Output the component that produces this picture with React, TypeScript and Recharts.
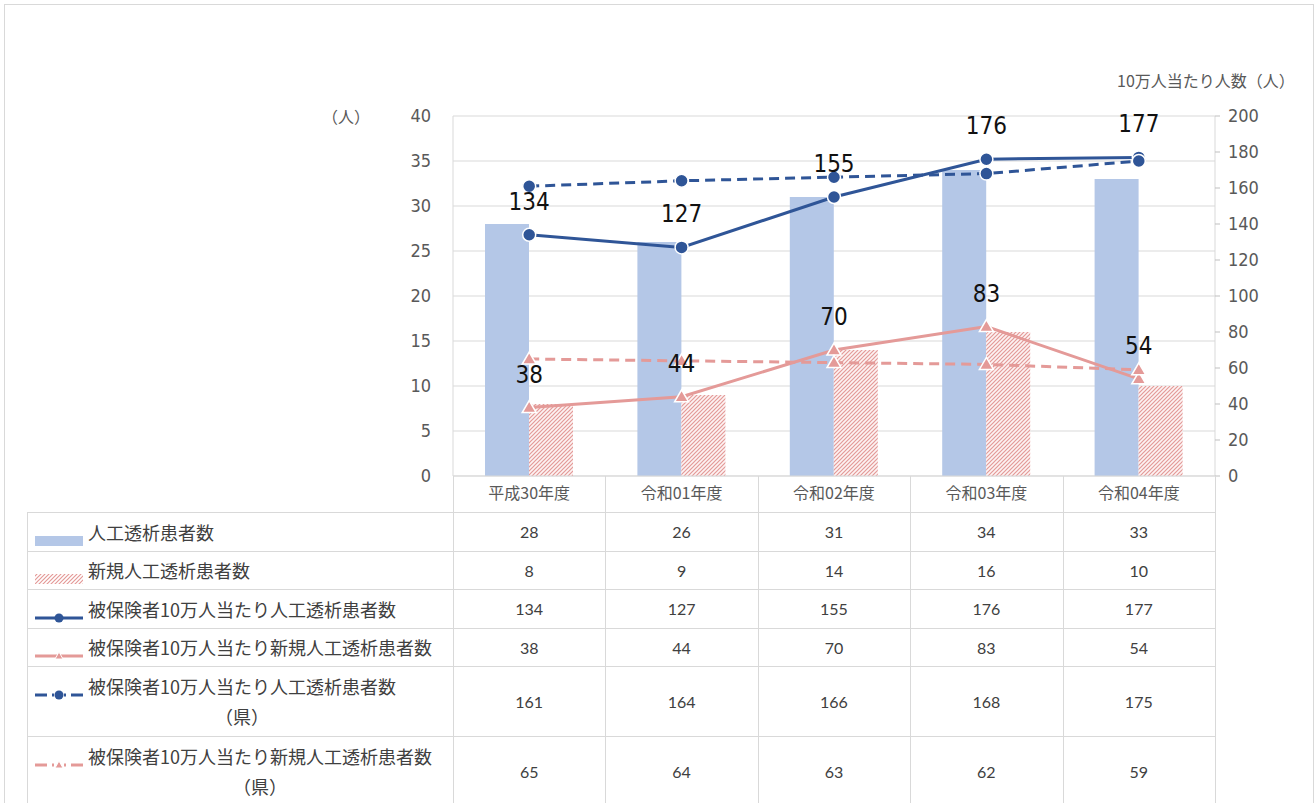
import React from 'react';
import {
  ComposedChart,
  Bar,
  Line,
  XAxis,
  YAxis,
  CartesianGrid,
  LabelList
} from 'recharts';

const years = ['平成30年度', '令和01年度', '令和02年度', '令和03年度', '令和04年度'];
const patients = [28, 26, 31, 34, 33];
const newPatients = [8, 9, 14, 16, 10];
const per100k = [134, 127, 155, 176, 177];
const newPer100k = [38, 44, 70, 83, 54];
const per100kPref = [161, 164, 166, 168, 175];
const newPer100kPref = [65, 64, 63, 62, 59];
const leftTicks = [0, 5, 10, 15, 20, 25, 30, 35, 40];
const rightTicks = [0, 20, 40, 60, 80, 100, 120, 140, 160, 180, 200];

const data = years.map((year, i) => ({
  year,
  patients: patients[i],
  newPatients: newPatients[i],
  per100k: per100k[i],
  newPer100k: newPer100k[i],
  per100kPref: per100kPref[i],
  newPer100kPref: newPer100kPref[i]
}));

const BLUE_BAR = '#b4c7e7';
const BLUE = '#2f5597';
const PINK = '#e49a98';
const GRID = '#d9d9d9';
const AXIS_TEXT = '#595959';
const TEXT = '#404040';
const JP = '"Noto Sans CJK JP", "Noto Sans", sans-serif';
const NARROW = '"Liberation Sans Narrow", "DejaVu Sans Condensed", "Roboto", sans-serif';

// table rows (legend + values)
const rows = [
  { key: 'bar', label: ['人工透析患者数'], values: patients },
  { key: 'hatch', label: ['新規人工透析患者数'], values: newPatients },
  { key: 'blue', label: ['被保険者10万人当たり人工透析患者数'], values: per100k },
  { key: 'pink', label: ['被保険者10万人当たり新規人工透析患者数'], values: newPer100k },
  { key: 'blueDash', label: ['被保険者10万人当たり人工透析患者数', '（県）'], values: per100kPref },
  { key: 'pinkDash', label: ['被保険者10万人当たり新規人工透析患者数', '（県）'], values: newPer100kPref }
];

const PLOT_LEFT = 453;
const PLOT_RIGHT = 1215;
const COL_W = (PLOT_RIGHT - PLOT_LEFT) / years.length;
const TABLE_LEFT = 27;
const rowTops = [512, 551, 589, 628, 666, 736];
const rowHeights = [39, 38, 39, 38, 70, 70];

const Triangle = (props: any) => {
  const { cx, cy, fill, index } = props;
  if (cx == null || cy == null) return <g key={`t-${index}`} />;
  return (
    <path
      key={`t-${index}`}
      d={`M${cx},${cy - 7} L${cx + 7},${cy + 5} L${cx - 7},${cy + 5} Z`}
      fill={fill}
      stroke="#fff"
      strokeWidth={1.5}
    />
  );
};

const Circle = (props: any) => {
  const { cx, cy, fill, index } = props;
  if (cx == null || cy == null) return <g key={`c-${index}`} />;
  return <circle key={`c-${index}`} cx={cx} cy={cy} r={6.5} fill={fill} stroke="#fff" strokeWidth={1.5} />;
};

const LegendIcon = ({ kind }: { kind: string }) => {
  const w = 48;
  if (kind === 'bar') {
    return (
      <svg width={w} height={14}>
        <rect x={0} y={2} width={w} height={10} fill={BLUE_BAR} />
      </svg>
    );
  }
  if (kind === 'hatch') {
    return (
      <svg width={w} height={14}>
        <defs>
          <pattern id="hatchLegend" patternUnits="userSpaceOnUse" width={4} height={4}>
            <path d="M-1,1 l2,-2 M0,4 l4,-4 M3,5 l2,-2" stroke={PINK} strokeWidth={1.2} />
          </pattern>
        </defs>
        <rect x={0} y={2} width={w} height={10} fill="url(#hatchLegend)" />
      </svg>
    );
  }
  const color = kind.startsWith('blue') ? BLUE : PINK;
  const dashed = kind.endsWith('Dash');
  const marker = kind.startsWith('blue')
    ? <circle cx={24} cy={7} r={4.5} fill={color} />
    : <path d="M24,3 L28,10 L20,10 Z" fill={color} stroke="#fff" strokeWidth={1} />;
  return (
    <svg width={w} height={14}>
      {dashed ? (
        <>
          <line x1={0} y1={7} x2={12} y2={7} stroke={color} strokeWidth={3} />
          <line x1={17} y1={7} x2={19} y2={7} stroke={color} strokeWidth={3} />
          <line x1={29} y1={7} x2={31} y2={7} stroke={color} strokeWidth={3} />
          <line x1={36} y1={7} x2={48} y2={7} stroke={color} strokeWidth={3} />
        </>
      ) : (
        <line x1={0} y1={7} x2={w} y2={7} stroke={color} strokeWidth={3} />
      )}
      {marker}
    </svg>
  );
};

const DataTable = () => {
  const hLines = rowTops;
  const vLines = [PLOT_LEFT, ...years.map((_, i) => PLOT_LEFT + COL_W * (i + 1))];
  return (
    <>
      {hLines.map((y) => (
        <div key={`h-${y}`} style={{ position: 'absolute', left: TABLE_LEFT, top: y, width: PLOT_RIGHT - TABLE_LEFT, height: 1, background: GRID }} />
      ))}
      <div style={{ position: 'absolute', left: TABLE_LEFT, top: 512, width: 1, height: 300, background: GRID }} />
      {vLines.map((x) => (
        <div key={`v-${x}`} style={{ position: 'absolute', left: Math.round(x), top: 476, width: 1, height: 340, background: GRID }} />
      ))}
      {rows.map((row, r) => (
        <React.Fragment key={row.key}>
          <div
            style={{
              position: 'absolute',
              left: 88,
              top: rowTops[r],
              height: rowHeights[r],
              display: 'flex',
              alignItems: 'center'
            }}
          >
            <div style={{ position: 'relative', display: 'inline-block', textAlign: 'center', lineHeight: '30px', fontSize: 18, color: TEXT, fontFamily: JP, whiteSpace: 'nowrap' }}>
              <div style={{ position: 'absolute', left: -53, top: 8 }}>
                <LegendIcon kind={row.key} />
              </div>
              {row.label.map((line, li) => (
                <div key={li}>{line}</div>
              ))}
            </div>
          </div>
          {row.values.map((v, i) => (
            <div
              key={`${row.key}-${i}`}
              style={{
                position: 'absolute',
                left: PLOT_LEFT + COL_W * i,
                width: COL_W,
                top: rowTops[r],
                height: rowHeights[r],
                display: 'flex',
                alignItems: 'center',
                justifyContent: 'center',
                fontFamily: 'Lato, "Open Sans", sans-serif',
                fontSize: 16,
                color: TEXT
              }}
            >
              {v}
            </div>
          ))}
        </React.Fragment>
      ))}
    </>
  );
};

const labelStyle = { fill: '#111', fontSize: 24, fontFamily: NARROW };

const App: React.FC = () => {
  return (
    <div style={{ position: 'absolute', left: 0, top: 0, width: 1316, height: 803, background: '#fff', overflow: 'hidden' }}>
      <div style={{ position: 'absolute', left: 4, top: 4, width: 1308, height: 820, border: `1px solid ${GRID}` }} />

      <div style={{ position: 'absolute', left: 322, top: 104, fontSize: 16, color: AXIS_TEXT, fontFamily: JP }}>（人）</div>
      <div style={{ position: 'absolute', left: 1117, top: 68, fontSize: 16, color: AXIS_TEXT, fontFamily: JP }}>10万人当たり人数（人）</div>

      <div style={{ position: 'absolute', left: 0, top: 0 }}>
        <ComposedChart
          width={1316}
          height={512}
          data={data}
          margin={{ top: 116, right: 0, left: 0, bottom: 0 }}
          barGap={0}
          barSize={44}
        >
          <defs>
            <pattern id="hatchBar" patternUnits="userSpaceOnUse" width={4} height={4}>
              <rect width={4} height={4} fill="#fdf3f3" />
              <path d="M-1,1 l2,-2 M0,4 l4,-4 M3,5 l2,-2" stroke={PINK} strokeWidth={1.2} />
            </pattern>
          </defs>
          <CartesianGrid yAxisId="left" vertical={false} stroke={GRID} />
          <XAxis
            dataKey="year"
            height={36}
            axisLine={{ stroke: GRID }}
            tickLine={false}
            tickMargin={6}
            tick={{ fontSize: 16, fill: AXIS_TEXT, fontFamily: JP }}
          />
          <YAxis
            yAxisId="left"
            orientation="left"
            width={453}
            domain={[0, 40]}
            ticks={leftTicks}
            axisLine={{ stroke: GRID }}
            tickLine={false}
            tickMargin={16}
            tick={{ fontSize: 18, fill: AXIS_TEXT, fontFamily: NARROW }}
          />
          <YAxis
            yAxisId="right"
            orientation="right"
            width={101}
            domain={[0, 200]}
            ticks={rightTicks}
            axisLine={{ stroke: GRID }}
            tickLine={{ stroke: '#bfbfbf' }}
            tickSize={5}
            tickMargin={8}
            tick={{ fontSize: 18, fill: AXIS_TEXT, fontFamily: NARROW, textAnchor: 'start' }}
          />

          <Bar yAxisId="left" dataKey="patients" fill={BLUE_BAR} isAnimationActive={false} />
          <Bar yAxisId="left" dataKey="newPatients" fill="url(#hatchBar)" isAnimationActive={false} />

          <Line
            yAxisId="right"
            dataKey="per100k"
            stroke={BLUE}
            strokeWidth={3}
            dot={(p: any) => <Circle {...p} fill={BLUE} />}
            activeDot={false}
            isAnimationActive={false}
          />
          <Line
            yAxisId="right"
            dataKey="newPer100k"
            stroke={PINK}
            strokeWidth={3}
            dot={(p: any) => <Triangle {...p} fill={PINK} />}
            activeDot={false}
            isAnimationActive={false}
          />
          <Line
            yAxisId="right"
            dataKey="per100kPref"
            stroke={BLUE}
            strokeWidth={3}
            strokeDasharray="10 6"
            dot={(p: any) => <Circle {...p} fill={BLUE} />}
            activeDot={false}
            isAnimationActive={false}
          />
          <Line
            yAxisId="right"
            dataKey="newPer100kPref"
            stroke={PINK}
            strokeWidth={3}
            strokeDasharray="10 6"
            dot={(p: any) => <Triangle {...p} fill={PINK} />}
            activeDot={false}
            isAnimationActive={false}
          />

          {/* label-only copies so the numbers sit above every line */}
          <Line yAxisId="right" dataKey="per100k" stroke="none" dot={false} activeDot={false} isAnimationActive={false}>
            <LabelList dataKey="per100k" position="top" offset={25} {...labelStyle} />
          </Line>
          <Line yAxisId="right" dataKey="newPer100k" stroke="none" dot={false} activeDot={false} isAnimationActive={false}>
            <LabelList dataKey="newPer100k" position="top" offset={25} {...labelStyle} />
          </Line>
        </ComposedChart>
      </div>

      <DataTable />
    </div>
  );
};

export default App;
